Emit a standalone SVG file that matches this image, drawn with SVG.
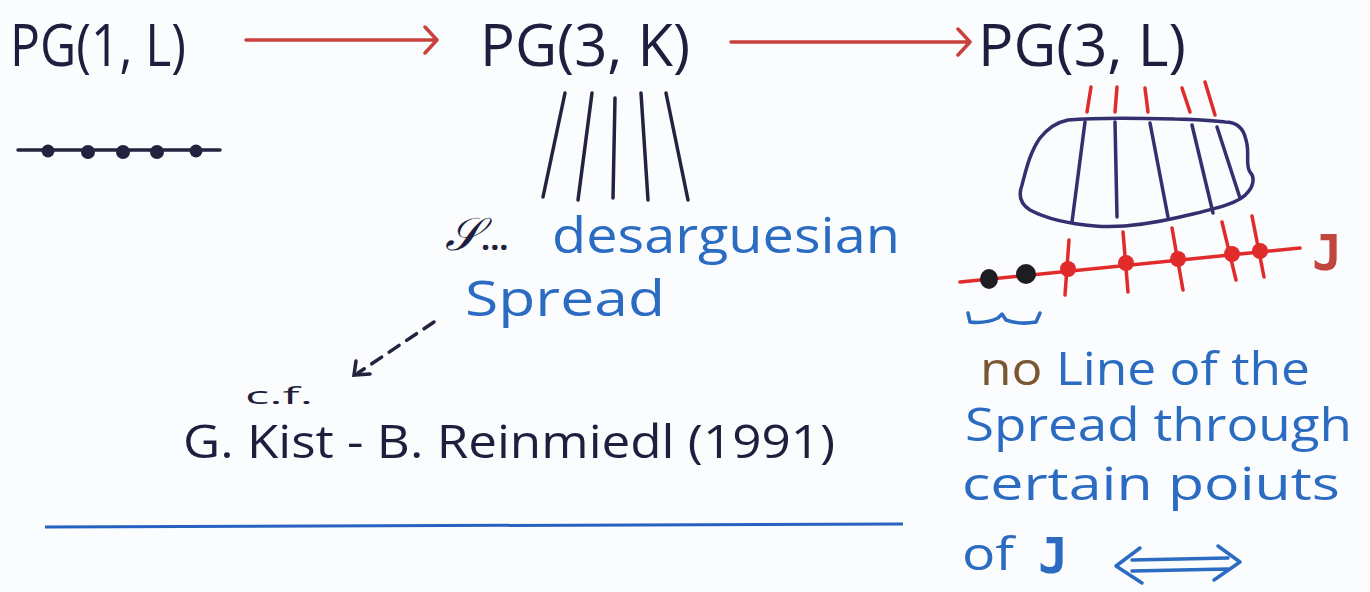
<svg xmlns="http://www.w3.org/2000/svg" width="1370" height="592" viewBox="0 0 1370 592">
  <style>
    .ink { fill: #1f1e3e; font-family: "Open Sans", "Liberation Sans", sans-serif; }
    .blue { fill: #2b6cc2; font-family: "Open Sans", "Liberation Sans", sans-serif; }
    .brown { fill: #7a5632; }
    .mono { font-family: "DejaVu Sans Mono", "Liberation Mono", monospace; }
    .redline { stroke: #c9413d; stroke-width: 3.5; fill: none; stroke-linecap: round; stroke-linejoin: round; }
    .pen { stroke: #24223f; stroke-width: 3.5; fill: none; stroke-linecap: round; }
    .fiber { stroke: #34306f; stroke-width: 3.5; fill: none; stroke-linecap: round; }
    .red { stroke: #e12b2b; stroke-width: 3.5; fill: none; stroke-linecap: round; }
    .bluepen { stroke: #2b6cc2; stroke-width: 3.5; fill: none; stroke-linecap: round; stroke-linejoin: round; }
  </style>
  <rect width="1370" height="592" fill="#fbfcfd"/>

  <!-- headings -->
  <g id="pg1L">
    <text class="ink" x="10" y="66" font-size="58" textLength="176" lengthAdjust="spacingAndGlyphs">PG(1, L)</text>
  </g>
  <g id="pg3K">
    <text class="ink" x="480" y="66" font-size="58" textLength="210" lengthAdjust="spacingAndGlyphs">PG(3, K)</text>
  </g>
  <g id="pg3L">
    <text class="ink" x="978" y="66" font-size="58" textLength="208" lengthAdjust="spacingAndGlyphs">PG(3, L)</text>
  </g>

  <!-- connectors between the headings -->
  <g id="connectors">
    <path class="redline" d="M246,40 L437,40 M425,27 L437,40 L425,53"/>
    <path class="redline" d="M731,42 L970,42 M958,29 L970,42 L958,55"/>
    <path class="pen" stroke-width="3" stroke-dasharray="12,9" d="M434,322 L358,373"/>
    <path class="pen" stroke-width="3" d="M356,361 L354,375 L370,374"/>
  </g>

  <!-- projective line with its points -->
  <g id="line-points">
    <path class="pen" stroke-width="3" d="M18,150 L220,150"/>
    <g fill="#24223f">
      <circle cx="48" cy="151" r="6.5"/>
      <circle cx="88" cy="152" r="7"/>
      <circle cx="123" cy="152" r="7"/>
      <circle cx="157" cy="152" r="7"/>
      <circle cx="196" cy="151" r="6.5"/>
    </g>
  </g>

  <!-- spread lines -->
  <g id="spread">
    <path class="pen" d="M565,93 L543,197"/>
    <path class="pen" d="M592,93 L578,200"/>
    <path class="pen" d="M615,98 L613,198"/>
    <path class="pen" d="M641,93 L648,200"/>
    <path class="pen" d="M666,93 L688,200"/>
  </g>

  <g id="spread-label">
    <text class="ink" x="445" y="250"><tspan font-size="46" font-family="DejaVu Serif, serif" font-style="italic">𝒮</tspan><tspan font-size="32" font-weight="bold">...</tspan></text>
    <text class="blue" x="552" y="253" font-size="50" textLength="348" lengthAdjust="spacingAndGlyphs">desarguesian</text>
    <text class="blue" x="465" y="316" font-size="50" textLength="200" lengthAdjust="spacingAndGlyphs">Spread</text>
  </g>

  <g id="reference">
    <text class="ink" x="245" y="404" font-size="24" textLength="68" lengthAdjust="spacingAndGlyphs">c.f.</text>
    <text class="ink" x="183" y="458" font-size="46" textLength="652" lengthAdjust="spacingAndGlyphs">G. Kist - B. Reinmiedl (1991)</text>
  </g>

  <g id="rule">
    <path stroke="#2461c0" stroke-width="3" d="M45,527 L903,524"/>
  </g>

  <!-- the extended space: region of the spread over the subline J -->
  <g id="extension">
    <g class="red">
      <path d="M1091,87 L1087,112"/>
      <path d="M1117,87 L1115,112"/>
      <path d="M1145,88 L1148,112"/>
      <path d="M1182,88 L1190,112"/>
      <path d="M1205,82 L1215,115"/>
    </g>
    <path class="fiber" d="M1040,138 C1048,128 1058,122 1068,120 C1100,117 1140,118 1175,119 C1200,119 1215,121 1225,122 C1238,122 1244,130 1246,140 C1250,152 1245,165 1250,172 C1256,178 1252,188 1248,192 C1240,204 1210,210 1180,217 C1150,224 1120,228 1095,226 C1070,224 1045,218 1030,210 C1020,204 1018,196 1022,185 C1026,170 1030,152 1040,138 Z"/>
    <g class="fiber">
      <path d="M1085,122 L1072,222"/>
      <path d="M1115,122 L1117,217"/>
      <path d="M1150,123 L1168,217"/>
      <path d="M1192,125 L1213,213"/>
      <path d="M1217,127 L1240,198"/>
    </g>
    <g class="red">
      <path d="M960,282 L1300,248"/>
      <path d="M1069,240 L1065,295"/>
      <path d="M1123,232 L1128,292"/>
      <path d="M1172,228 L1183,290"/>
      <path d="M1222,222 L1236,280"/>
      <path d="M1252,216 L1264,277"/>
    </g>
    <g fill="#e12b2b">
      <circle cx="1068" cy="269" r="8"/>
      <circle cx="1126" cy="263" r="8"/>
      <circle cx="1178" cy="259" r="8"/>
      <circle cx="1232" cy="254" r="8"/>
      <circle cx="1260" cy="251" r="8"/>
    </g>
    <g fill="#1e1d22">
      <ellipse cx="989" cy="279" rx="9" ry="10"/>
      <ellipse cx="1026" cy="274" rx="10" ry="10"/>
    </g>
    <text class="mono" x="1312" y="270" font-size="50" font-weight="bold" fill="#c0473e">J</text>
    <path class="bluepen" d="M968,313 L970,322 Q985,324 998,318 L1002,314 L1006,320 Q1020,325 1036,322 L1040,313"/>
  </g>

  <g id="note">
    <text class="blue" x="980" y="385" font-size="46" textLength="330" lengthAdjust="spacingAndGlyphs"><tspan class="brown">no</tspan> Line of the</text>
    <text class="blue" x="965" y="441" font-size="46" textLength="387" lengthAdjust="spacingAndGlyphs">Spread through</text>
    <text class="blue" x="962" y="500" font-size="46" textLength="378" lengthAdjust="spacingAndGlyphs">certain poiuts</text>
    <text class="blue" x="962" y="570" font-size="46" textLength="52" lengthAdjust="spacingAndGlyphs">of</text>
    <text class="mono" x="1038" y="573" font-size="50" font-weight="bold" fill="#2b6cc2">J</text>
    <path class="bluepen" d="M1132,560 L1228,558 M1132,571 L1228,569 M1140,548 L1116,566 L1142,583 M1218,546 L1240,562 L1214,580"/>
  </g>
</svg>
